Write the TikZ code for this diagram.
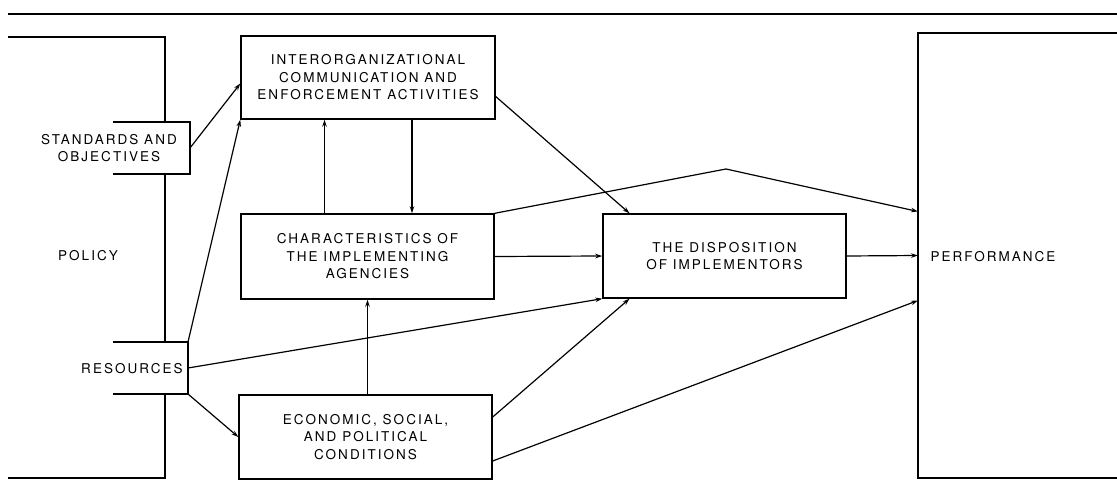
\documentclass[tikz,border=0pt]{standalone}
\usepackage{fontspec}
\setmainfont{TeX Gyre Heros}[LetterSpace=15]
\usetikzlibrary{arrows.meta, positioning, calc}

\begin{document}
\begin{tikzpicture}[x=1pt, y=-1pt,
        box/.style={draw, line width=1.4pt, rectangle, inner sep=0pt},
        frame/.style={inner sep=0pt, outer sep=0pt},
        arr/.style={-{Stealth[length=7pt, width=4.5pt]}, line width=1.2pt},
        lbl/.style={align=center, font=\fontsize{13.5}{17.5}\selectfont}]
    \useasboundingbox (0,0) rectangle (1117,495);

    % Top rule
    \draw[line width=1.6pt] (8,14) -- (1117,14);

    % Policy frame with its two tabs
    \node[frame, minimum width=157pt, minimum height=441pt, anchor=north west] (policy) at (8,37) {};
    \node[frame, minimum width=77pt, minimum height=52pt] (stdTab) at (151.5,148) {};
    \node[frame, minimum width=75pt, minimum height=52pt] (resTab) at (150.5,368) {};
    \begin{scope}[line width=1.4pt]
        \draw (policy.north west) -- (policy.north east) -- (policy.east |- stdTab.north);
        \draw (stdTab.north west) -- (stdTab.north east) -- (stdTab.south east) -- (stdTab.south west);
        \draw (policy.east |- stdTab.south) -- (policy.east |- resTab.north);
        \draw (resTab.north west) -- (resTab.north east) -- (resTab.south east) -- (resTab.south west);
        \draw (policy.east |- resTab.south) -- (policy.south east) -- (policy.south west);
    \end{scope}
    \node[lbl] (stdText) at (109,148) {STANDARDS AND\\OBJECTIVES};
    \node[lbl] (policyText) at (88,256) {POLICY};
    \node[lbl] (resText) at (132,369) {RESOURCES};

    % Performance frame (open to the right)
    \node[frame, minimum width=205pt, minimum height=445pt, anchor=north west] (perf) at (918,33) {};
    \draw[line width=1.4pt] (perf.north east) -- (perf.north west) -- (perf.south west) -- (perf.south east);
    \node[lbl, anchor=west] (perfText) at (927,257) {PERFORMANCE};

    % Boxes
    \node[box, lbl, minimum width=254pt, minimum height=83pt] (inter) at (368,77.5)
        {INTERORGANIZATIONAL\\COMMUNICATION AND\\ENFORCEMENT ACTIVITIES};
    \node[box, lbl, minimum width=253pt, minimum height=85pt] (chars) at (367.5,256.5)
        {CHARACTERISTICS OF\\THE IMPLEMENTING\\AGENCIES};
    \node[box, lbl, minimum width=253pt, minimum height=84pt] (econ) at (365.5,437)
        {ECONOMIC, SOCIAL,\\AND POLITICAL\\CONDITIONS};
    \node[box, lbl, minimum width=243pt, minimum height=84pt] (disp) at (724.5,256)
        {THE DISPOSITION\\OF IMPLEMENTORS};
    \coordinate (peak) at (726,169);

    % Connectors
    \draw[arr] (stdTab.east) -- ([yshift=-6pt]inter.west);
    \draw[arr] (resTab.north east) -- (inter.south west);
    \draw[arr] ([xshift=-43pt]chars.north) -- ([xshift=-43pt]chars.north |- inter.south);
    \draw[arr] ([xshift=44pt]inter.south) -- ([xshift=44pt]inter.south |- chars.north);
    \draw[arr] ([yshift=-19pt]inter.east) -- ([xshift=-95pt]disp.north);
    \draw[arr] (chars.north east) -- (peak) -- ([yshift=44pt]perf.west);
    \draw[arr] (chars.east) -- (disp.west);
    \draw[arr] (resTab.east) -- (disp.south west);
    \draw[arr] (chars.south |- econ.north) -- (chars.south);
    \draw[arr] (resTab.south east) -- (econ.west);
    \draw[arr] ([yshift=20pt]econ.east) -- ([xshift=-95pt]disp.south);
    \draw[arr] ([yshift=-24pt]econ.east) -- ([yshift=-45pt]perf.west);
    \draw[arr] (disp.east) -- (perf.west);
\end{tikzpicture}
\end{document}
